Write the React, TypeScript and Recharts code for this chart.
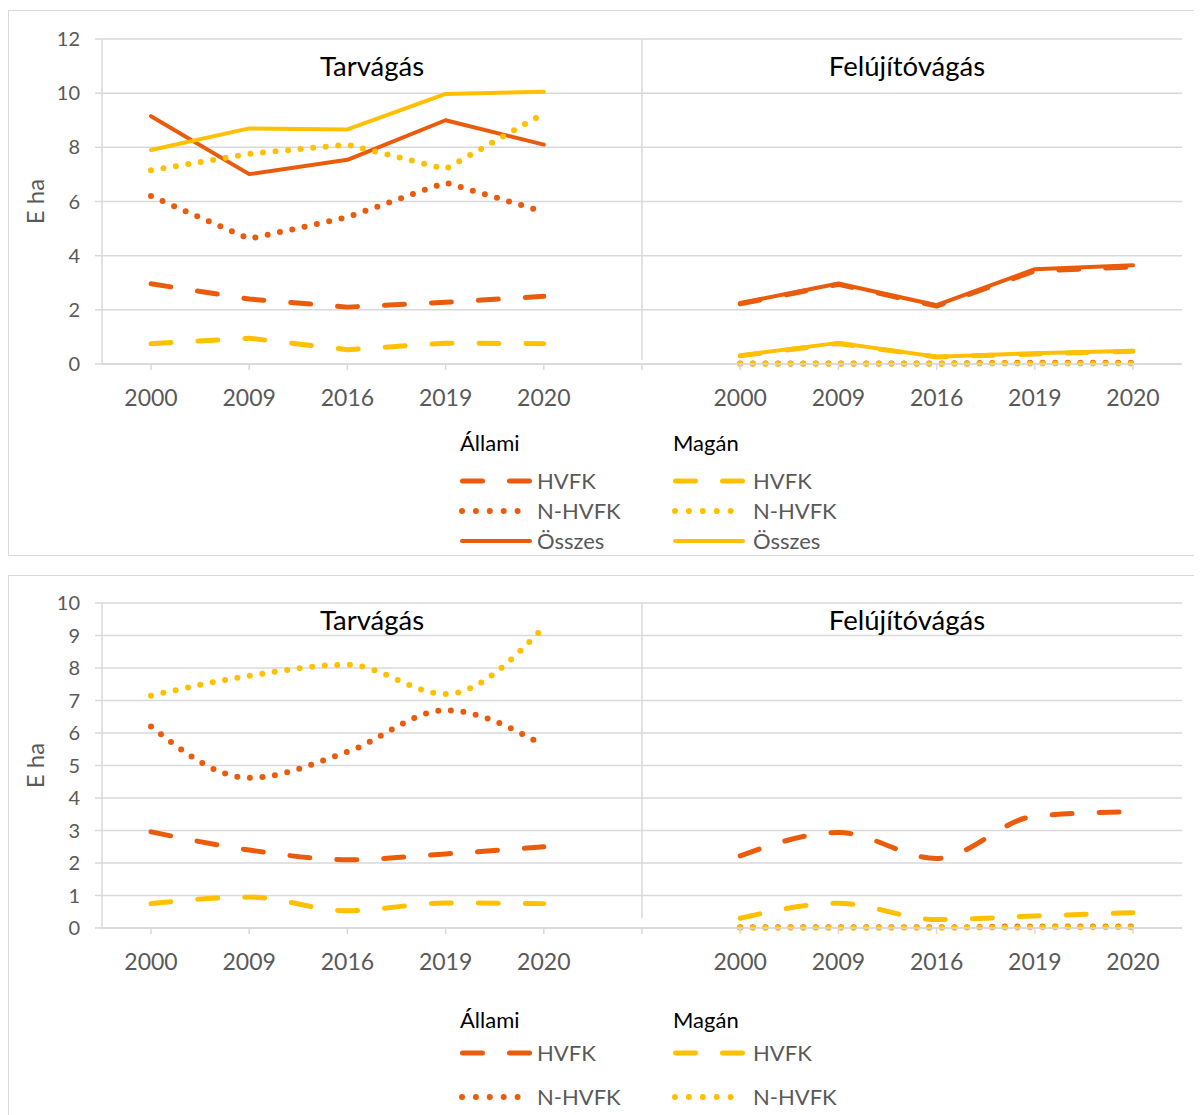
import { LineChart, Line, XAxis, YAxis, CartesianGrid, ReferenceLine } from "recharts";

const FONT = "Lato, 'Noto Sans', sans-serif";
const ORANGE = "#EA5B0C";
const YELLOW = "#FFC000";
const GRID = "#d9d9d9";
const TEXT = "#595959";

const YEARS = ["2000", "2009", "2016", "2019", "2020"];
const LABELS = [...YEARS, "", ...YEARS];

// Tarvágás, E ha
const ALLAMI_HVFK_TAR = [2.96, 2.4, 2.1, 2.28, 2.5];
const ALLAMI_NHVFK_TAR = [6.2, 4.62, 5.42, 6.7, 5.62];
const ALLAMI_OSSZES_TAR = [9.15, 7.01, 7.54, 9.0, 8.1];
const MAGAN_HVFK_TAR = [0.75, 0.95, 0.53, 0.77, 0.75];
const MAGAN_NHVFK_TAR = [7.15, 7.76, 8.1, 7.2, 9.25];
const MAGAN_OSSZES_TAR = [7.9, 8.7, 8.66, 9.97, 10.05];

// Felújítóvágás, E ha
const ALLAMI_HVFK_FEL = [2.22, 2.94, 2.14, 3.44, 3.58];
const ALLAMI_NHVFK_FEL = [0.02, 0.02, 0.02, 0.05, 0.05];
const ALLAMI_OSSZES_FEL = [2.25, 2.97, 2.17, 3.5, 3.65];
const MAGAN_HVFK_FEL = [0.3, 0.76, 0.26, 0.37, 0.47];
const MAGAN_NHVFK_FEL = [0.01, 0.01, 0.01, 0.02, 0.02];
const MAGAN_OSSZES_FEL = [0.32, 0.78, 0.27, 0.4, 0.49];

type Row = Record<string, number | null>;

function buildRows(left: Record<string, number[]>, right: Record<string, number[]>): Row[] {
  return LABELS.map((_, i) => {
    const row: Row = { idx: i };
    Object.keys(left).forEach((k) => {
      row[k] = i < 5 ? left[k][i] : i === 5 ? null : right[k][i - 6];
    });
    return row;
  });
}

const topRows = buildRows(
  {
    allamiHvfk: ALLAMI_HVFK_TAR,
    allamiNhvfk: ALLAMI_NHVFK_TAR,
    allamiOsszes: ALLAMI_OSSZES_TAR,
    maganHvfk: MAGAN_HVFK_TAR,
    maganNhvfk: MAGAN_NHVFK_TAR,
    maganOsszes: MAGAN_OSSZES_TAR,
  },
  {
    allamiHvfk: ALLAMI_HVFK_FEL,
    allamiNhvfk: ALLAMI_NHVFK_FEL,
    allamiOsszes: ALLAMI_OSSZES_FEL,
    maganHvfk: MAGAN_HVFK_FEL,
    maganNhvfk: MAGAN_NHVFK_FEL,
    maganOsszes: MAGAN_OSSZES_FEL,
  }
);

const bottomRows = buildRows(
  {
    allamiHvfk: ALLAMI_HVFK_TAR,
    allamiNhvfk: ALLAMI_NHVFK_TAR,
    maganHvfk: MAGAN_HVFK_TAR,
    maganNhvfk: MAGAN_NHVFK_TAR,
  },
  {
    allamiHvfk: ALLAMI_HVFK_FEL,
    allamiNhvfk: ALLAMI_NHVFK_FEL,
    maganHvfk: MAGAN_HVFK_FEL,
    maganNhvfk: MAGAN_NHVFK_FEL,
  }
);

type LineStyle = "dash" | "dot" | "solid";

const STYLE: Record<LineStyle, { strokeWidth: number; strokeDasharray?: string }> = {
  dash: { strokeWidth: 5, strokeDasharray: "20 27" },
  dot: { strokeWidth: 6, strokeDasharray: "0 12.6" },
  solid: { strokeWidth: 4 },
};

const SERIES: { key: string; color: string; style: LineStyle }[] = [
  { key: "allamiHvfk", color: ORANGE, style: "dash" },
  { key: "allamiNhvfk", color: ORANGE, style: "dot" },
  { key: "allamiOsszes", color: ORANGE, style: "solid" },
  { key: "maganHvfk", color: YELLOW, style: "dash" },
  { key: "maganNhvfk", color: YELLOW, style: "dot" },
  { key: "maganOsszes", color: YELLOW, style: "solid" },
];

function YLabel({ viewBox }: any) {
  const x = 26;
  const y = viewBox.y + viewBox.height / 2;
  return (
    <text
      x={x}
      y={y}
      transform={`rotate(-90, ${x}, ${y})`}
      textAnchor="middle"
      dominantBaseline="central"
      style={{ fontSize: 24, fill: TEXT, fontFamily: FONT }}
    >
      E ha
    </text>
  );
}

interface PanelChartProps {
  rows: Row[];
  keys: string[];
  max: number;
  ticks: number[];
  smooth: boolean;
  dividerBottom: number;
}

function PanelChart({ rows, keys, max, ticks, smooth, dividerBottom }: PanelChartProps) {
  return (
    <LineChart width={1194} height={420} data={rows} margin={{ top: 31, right: 20, left: 0, bottom: 14 }}>
      <CartesianGrid vertical={false} stroke={GRID} strokeWidth={1.5} />
      <XAxis
        dataKey="idx"
        type="category"
        interval={0}
        height={50}
        padding={{ left: 49, right: 49 }}
        tickFormatter={(i: number) => LABELS[i]}
        tick={{ fontSize: 23, fill: TEXT, fontFamily: FONT }}
        tickSize={6}
        tickMargin={20}
        axisLine={{ stroke: GRID, strokeWidth: 1.5 }}
        tickLine={{ stroke: GRID, strokeWidth: 1.5 }}
      />
      <YAxis
        width={94}
        domain={[0, max]}
        ticks={ticks}
        interval={0}
        tick={{ fontSize: 20, fill: TEXT, fontFamily: FONT }}
        tickSize={7}
        tickMargin={15}
        axisLine={{ stroke: GRID, strokeWidth: 1.5 }}
        tickLine={{ stroke: GRID, strokeWidth: 1.5 }}
        label={<YLabel />}
      />
      <ReferenceLine
        segment={[
          { x: 5, y: dividerBottom },
          { x: 5, y: max },
        ]}
        stroke={GRID}
        strokeWidth={1.5}
      />
      {SERIES.filter((s) => keys.includes(s.key)).map((s) => (
        <Line
          key={s.key}
          dataKey={s.key}
          type={smooth ? "monotone" : "linear"}
          stroke={s.color}
          strokeLinecap="round"
          strokeLinejoin="round"
          {...STYLE[s.style]}
          dot={false}
          activeDot={false}
          connectNulls={false}
          isAnimationActive={false}
        />
      ))}
    </LineChart>
  );
}

function Sample({ color, style }: { color: string; style: LineStyle }) {
  return (
    <svg width={76} height={12} style={{ display: "block" }}>
      {style === "dash" && (
        <line x1={4.5} y1={6} x2={71.5} y2={6} stroke={color} strokeWidth={5} strokeDasharray="20 27" strokeLinecap="round" />
      )}
      {style === "dot" && (
        <line x1={4} y1={6} x2={60} y2={6} stroke={color} strokeWidth={6} strokeDasharray="0 13.9" strokeLinecap="round" />
      )}
      {style === "solid" && (
        <line x1={4} y1={6} x2={72} y2={6} stroke={color} strokeWidth={4} strokeLinecap="round" />
      )}
    </svg>
  );
}

const LEGEND_ROWS: { label: string; style: LineStyle }[] = [
  { label: "HVFK", style: "dash" },
  { label: "N-HVFK", style: "dot" },
  { label: "Összes", style: "solid" },
];

function Legend({ top, rowYs }: { top: number; rowYs: number[] }) {
  const cols = [
    { title: "Állami", color: ORANGE, left: 450 },
    { title: "Magán", color: YELLOW, left: 663 },
  ];
  return (
    <>
      {cols.map((c) => (
        <div key={c.title}>
          <div
            style={{
              position: "absolute",
              left: c.left + 2,
              top: top - 14,
              height: 28,
              lineHeight: "28px",
              fontSize: 22,
              color: "#000",
              fontFamily: FONT,
            }}
          >
            {c.title}
          </div>
          {rowYs.map((y, i) => (
            <div
              key={i}
              style={{
                position: "absolute",
                left: c.left,
                top: y - 14,
                height: 28,
                display: "flex",
                alignItems: "center",
              }}
            >
              <Sample color={c.color} style={LEGEND_ROWS[i].style} />
              <span
                style={{
                  fontSize: 22,
                  color: TEXT,
                  fontFamily: FONT,
                  lineHeight: "28px",
                  marginLeft: c.title === "Állami" ? 3 : 6,
                }}
              >
                {LEGEND_ROWS[i].label}
              </span>
            </div>
          ))}
        </div>
      ))}
    </>
  );
}

function Title({ text, x, y }: { text: string; x: number; y: number }) {
  return (
    <div
      style={{
        position: "absolute",
        left: x,
        top: y,
        transform: "translate(-50%, -50%)",
        fontSize: 27.5,
        color: "#000",
        fontFamily: FONT,
        whiteSpace: "nowrap",
      }}
    >
      {text}
    </div>
  );
}

export default function App() {
  const panelStyle: React.CSSProperties = {
    position: "absolute",
    left: 0,
    width: 1210,
    border: `1.5px solid ${GRID}`,
    boxSizing: "border-box",
    background: "#fff",
  };
  return (
    <div style={{ position: "relative", width: 1194, height: 1107, overflow: "hidden", fontFamily: FONT }}>
      <div style={{ ...panelStyle, top: 2, height: 546 }} />
      <div style={{ ...panelStyle, top: 567, height: 700 }} />

      <div style={{ position: "absolute", left: 0, top: 0 }}>
        <PanelChart
          rows={topRows}
          keys={SERIES.map((s) => s.key)}
          max={12}
          ticks={[0, 2, 4, 6, 8, 10, 12]}
          smooth={false}
          dividerBottom={0.15}
        />
      </div>
      <Title text="Tarvágás" x={364} y={57} />
      <Title text="Felújítóvágás" x={899} y={57} />
      <Legend top={435} rowYs={[473, 503, 533]} />

      <div style={{ position: "absolute", left: 0, top: 564 }}>
        <PanelChart
          rows={bottomRows}
          keys={["allamiHvfk", "allamiNhvfk", "maganHvfk", "maganNhvfk"]}
          max={10}
          ticks={[0, 1, 2, 3, 4, 5, 6, 7, 8, 9, 10]}
          smooth={true}
          dividerBottom={0.3}
        />
      </div>
      <Title text="Tarvágás" x={364} y={611} />
      <Title text="Felújítóvágás" x={899} y={611} />
      <Legend top={1012} rowYs={[1045, 1089]} />
    </div>
  );
}
